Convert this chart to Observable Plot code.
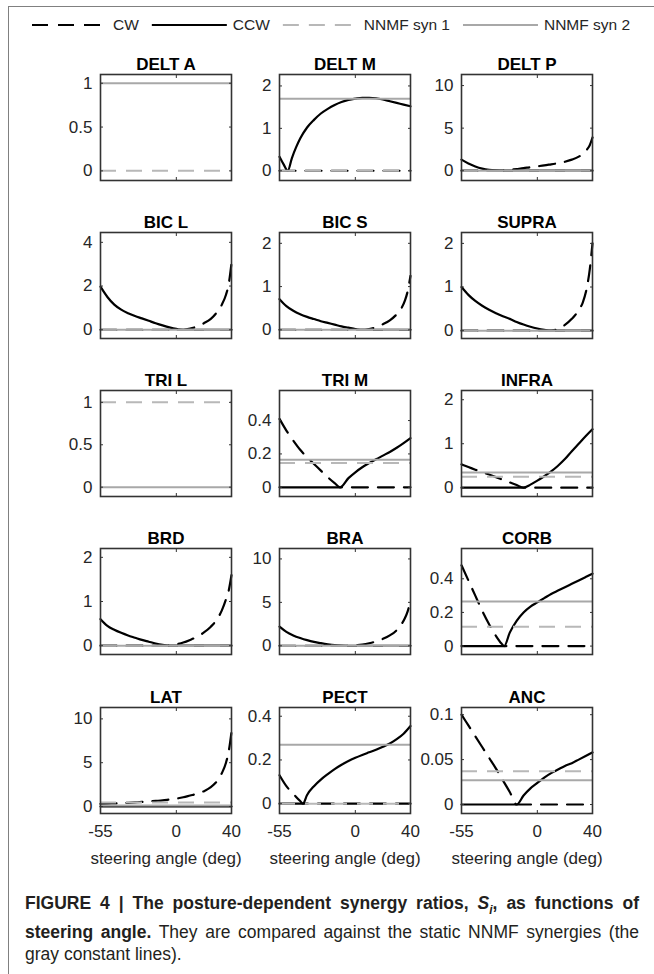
<!DOCTYPE html>
<html><head><meta charset="utf-8">
<script src="https://cdn.jsdelivr.net/npm/d3@7"></script>
<script src="https://cdn.jsdelivr.net/npm/@observablehq/plot@0.6"></script>
<style>
body{margin:0;background:#fff;font-family:"Liberation Sans",Arial,sans-serif;}
#fig{position:relative;width:654px;height:974px;overflow:hidden;background:#fff;}
.bt{position:absolute;left:8px;top:6px;width:646px;height:0;border-top:1.6px solid #808080;}
.bl{position:absolute;left:8px;top:6px;width:0;height:968px;border-left:1.6px solid #808080;}
.panel{position:absolute;}
#legend{position:absolute;left:0;top:0;}
#caption{position:absolute;left:25px;top:892px;width:614px;font-size:17.5px;line-height:22px;color:#231f20;}
#caption .j{text-align:justify;text-align-last:justify;white-space:normal;}
</style></head>
<body><div id="fig"><div class="bt"></div><div class="bl"></div><div id="legend"></div><div id="caption"></div></div>
<script>
// ---- data ----
const legendLabels = ["CW", "CCW", "NNMF syn 1", "NNMF syn 2"];
const muscles = ["DELT A","DELT M","DELT P","BIC L","BIC S","SUPRA","TRI L","TRI M","INFRA","BRD","BRA","CORB","LAT","PECT","ANC"];
const xTicks = [-55, 0, 40];
const xLabel = "steering angle (deg)";
const yTicks = [[0,0.5,1],[0,1,2],[0,5,10],[0,2,4],[0,1,2],[0,1,2],[0,0.5,1],[0,0.2,0.4],[0,1,2],[0,1,2],[0,5,10],[0,0.2,0.4],[0,5,10],[0,0.2,0.4],[0,0.05,0.1]];
const yLimits = [[-0.11,1.1],[-0.23,2.27],[-1.15,11.3],[-0.4,4.45],[-0.2,2.25],[-0.18,2.25],[-0.11,1.14],[-0.055,0.58],[-0.2,2.21],[-0.2,2.2],[-1.0,11.2],[-0.05,0.58],[-0.8,11.3],[-0.045,0.44],[-0.01,0.108]];
const syn1 = [0, 0, 0, 0, 0, 0, 1, 0.145, 0.25, 0, 0, 0.115, 0.45, 0, 0.037];
const syn2 = [1, 1.70, 0, 0, 0, 0, 0, 0.165, 0.345, 0, 0, 0.265, 0.1, 0.27, 0.027];
const cwCurves = [
  [],
  [[-55,0],[40,0]],
  [[-55,0],[-25,0],[-20,0.1],[-15,0.2],[-10,0.3],[-5,0.42],[0,0.52],[5,0.62],[10,0.75],[15,0.88],[20,1.05],[25,1.3],[30,1.65],[33,2.0],[36,2.5],[38,3.0],[40,3.9]],
  [[-55,0],[5,0],[10,0.05],[15,0.15],[20,0.3],[25,0.5],[30,0.85],[33,1.15],[36,1.6],[38,2.1],[40,3.05]],
  [[-55,0],[5,0],[10,0.02],[15,0.06],[20,0.13],[25,0.22],[30,0.36],[33,0.48],[36,0.68],[38,0.9],[40,1.25]],
  [[-55,0],[10,0],[15,0.04],[20,0.13],[25,0.27],[30,0.47],[33,0.65],[36,1.0],[38,1.4],[40,2.0]],
  [],
  [[-55,0.41],[-50,0.34],[-45,0.28],[-40,0.225],[-35,0.18],[-30,0.14],[-25,0.1],[-20,0.06],[-15,0.025],[-11,0],[40,0]],
  [[-55,0.53],[-50,0.47],[-45,0.41],[-40,0.35],[-35,0.3],[-30,0.24],[-25,0.18],[-20,0.12],[-15,0.06],[-10,0],[40,0]],
  [[-55,0],[-5,0],[0,0.03],[5,0.07],[10,0.13],[15,0.2],[20,0.3],[25,0.43],[30,0.62],[33,0.8],[36,1.05],[38,1.25],[40,1.6]],
  [[-55,0],[-5,0],[0,0.05],[5,0.15],[10,0.3],[15,0.5],[20,0.8],[25,1.2],[30,1.8],[33,2.4],[36,3.2],[38,4.0],[40,5.2]],
  [[-55,0.48],[-50,0.39],[-45,0.3],[-40,0.21],[-35,0.13],[-30,0.06],[-26,0.015],[-24,0],[40,0]],
  [[-55,0.3],[-50,0.32],[-45,0.35],[-40,0.38],[-35,0.42],[-30,0.47],[-25,0.52],[-20,0.58],[-15,0.64],[-10,0.7],[-5,0.8],[0,0.9],[5,1.05],[10,1.25],[15,1.45],[20,1.75],[25,2.2],[30,3.0],[33,3.8],[36,5.0],[38,6.3],[40,8.5]],
  [[-55,0.13],[-50,0.08],[-45,0.045],[-40,0.012],[-38,0],[40,0]],
  [[-55,0.1],[-50,0.088],[-45,0.076],[-40,0.064],[-35,0.052],[-30,0.04],[-25,0.027],[-20,0.014],[-15,0],[40,0]]
];
const ccwCurves = [
  [],
  [[-55,0.33],[-52,0.15],[-49,0],[-46,0.3],[-43,0.55],[-40,0.76],[-35,1.02],[-30,1.2],[-25,1.35],[-20,1.46],[-15,1.55],[-10,1.62],[-5,1.67],[0,1.70],[5,1.72],[10,1.72],[15,1.71],[20,1.68],[25,1.64],[30,1.6],[35,1.56],[40,1.52]],
  [[-55,1.3],[-50,0.85],[-45,0.5],[-40,0.25],[-35,0.1],[-30,0.03],[-25,0],[40,0]],
  [[-55,1.97],[-50,1.5],[-45,1.15],[-40,0.92],[-35,0.76],[-30,0.63],[-25,0.52],[-20,0.41],[-15,0.3],[-10,0.2],[-5,0.11],[0,0.04],[5,0],[40,0]],
  [[-55,0.71],[-50,0.55],[-45,0.44],[-40,0.36],[-35,0.3],[-30,0.25],[-25,0.2],[-20,0.16],[-15,0.12],[-10,0.08],[-5,0.05],[0,0.02],[5,0],[40,0]],
  [[-55,1.0],[-50,0.82],[-45,0.68],[-40,0.57],[-35,0.48],[-30,0.4],[-25,0.33],[-20,0.27],[-15,0.2],[-10,0.14],[-5,0.09],[0,0.05],[5,0.02],[10,0],[40,0]],
  [],
  [[-55,0],[-11,0],[-5,0.055],[0,0.09],[5,0.12],[10,0.145],[15,0.168],[20,0.19],[25,0.212],[30,0.237],[35,0.265],[40,0.295]],
  [[-55,0],[-10,0],[-5,0.07],[0,0.16],[5,0.26],[10,0.37],[15,0.5],[20,0.65],[25,0.83],[30,1.0],[35,1.17],[40,1.33]],
  [[-55,0.6],[-50,0.45],[-45,0.36],[-40,0.29],[-35,0.23],[-30,0.18],[-25,0.13],[-20,0.09],[-15,0.05],[-10,0.02],[-5,0],[40,0]],
  [[-55,2.2],[-50,1.6],[-45,1.2],[-40,0.9],[-35,0.65],[-30,0.45],[-25,0.3],[-20,0.17],[-15,0.07],[-10,0.02],[-5,0],[40,0]],
  [[-55,0],[-24,0],[-20,0.08],[-15,0.15],[-10,0.2],[-5,0.235],[0,0.26],[5,0.285],[10,0.31],[15,0.33],[20,0.35],[25,0.37],[30,0.39],[35,0.41],[40,0.43]],
  [[-55,0],[40,0]],
  [[-55,0],[-38,0],[-35,0.04],[-30,0.08],[-25,0.11],[-20,0.135],[-15,0.158],[-10,0.178],[-5,0.195],[0,0.21],[5,0.223],[10,0.235],[15,0.247],[20,0.26],[25,0.275],[30,0.295],[35,0.32],[40,0.355]],
  [[-55,0],[-15,0],[-10,0.01],[-5,0.018],[0,0.024],[5,0.03],[10,0.035],[15,0.039],[20,0.043],[25,0.046],[30,0.05],[35,0.054],[40,0.058]]
];

// ---- styles / layout ----
const FONT = '"Liberation Sans", Arial, sans-serif';
const TXT = "#262626";
const DASH = "16,10";
const GRAY1 = "#b8b8b8", GRAY2 = "#a8a8a8";
const colX = [100, 279, 461], rowY = [74, 232, 390, 548, 707];
const FW = 131, FH = 106;
const ML = 56, MR = 6, MT = 30, MB = 6, MBlast = 66;
const fmt = d => String(d);

const fig = document.getElementById("fig");
muscles.forEach((name, i) => {
  const r = Math.floor(i / 3), c = i % 3;
  const last = r === 4;
  const mb = last ? MBlast : MB;
  const marks = [
    Plot.line(cwCurves[i], {x: d => d[0], y: d => d[1], stroke: "#000", strokeWidth: 2.2, strokeDasharray: DASH, curve: "monotone-x"}),
    Plot.line(ccwCurves[i], {x: d => d[0], y: d => d[1], stroke: "#000", strokeWidth: 2.2, curve: "monotone-x"}),
    Plot.ruleY([syn1[i]], {stroke: GRAY1, strokeWidth: 2, strokeDasharray: DASH}),
    Plot.ruleY([syn2[i]], {stroke: GRAY2, strokeWidth: 2}),
    Plot.frame({stroke: "#333", strokeWidth: 1.6}),
    Plot.axisY(yTicks[i], {anchor: "left", tickSize: 0, tickPadding: 8, tickFormat: fmt, fill: TXT, stroke: "none", label: null}),
    Plot.axisY(yTicks[i], {anchor: "left", tickSize: -3, fill: "none", stroke: "#333", label: null}),
    Plot.axisY(yTicks[i], {anchor: "right", tickSize: -3, fill: "none", stroke: "#333", label: null}),
    Plot.axisX(xTicks, {anchor: "top", tickSize: -3, fill: "none", stroke: "#333", label: null}),
    Plot.axisX(xTicks, {anchor: "bottom", tickSize: -3, fill: "none", stroke: "#333", label: null}),
    Plot.text([name], {frameAnchor: "top", lineAnchor: "bottom", dy: -5, fontWeight: "bold", fontSize: 17, fill: "#000"})
  ];
  if (last) {
    marks.push(Plot.axisX(xTicks, {anchor: "bottom", tickSize: 0, tickPadding: 11, stroke: "none", fill: TXT,
      tickFormat: fmt, label: xLabel, labelAnchor: "center", labelArrow: "none", labelOffset: 50}));
  }
  const plot = Plot.plot({
    width: ML + FW + MR, height: MT + FH + mb,
    marginLeft: ML, marginRight: MR, marginTop: MT, marginBottom: mb,
    x: {domain: [-55, 40]},
    y: {domain: yLimits[i]},
    style: {fontFamily: FONT, fontSize: "17px", color: TXT, background: "transparent", overflow: "visible"},
    marks
  });
  const div = document.createElement("div");
  div.className = "panel";
  div.style.left = (colX[c] - ML) + "px";
  div.style.top = (rowY[r] - MT) + "px";
  div.style.width = (ML + FW + MR) + "px";
  div.appendChild(plot);
  fig.appendChild(div);
});

// legend
const legendStyles = [
  {stroke: "#000", dash: DASH, w: 2.2},
  {stroke: "#000", dash: null, w: 2.2},
  {stroke: GRAY1, dash: DASH, w: 2},
  {stroke: GRAY2, dash: null, w: 2}
];
const lsvg = d3.select("#legend").append("svg").attr("width", 654).attr("height", 45)
  .style("font-family", FONT).style("font-size", "15.5px");
let lx = 32;
const ly = 25;
legendLabels.forEach((lab, k) => {
  const s = legendStyles[k];
  lsvg.append("line").attr("x1", lx).attr("x2", lx + 75).attr("y1", ly).attr("y2", ly)
    .attr("stroke", s.stroke).attr("stroke-width", s.w).attr("stroke-dasharray", s.dash);
  lx += 81;
  const t = lsvg.append("text").attr("x", lx).attr("y", ly).attr("dy", "0.35em").attr("fill", TXT).text(lab);
  lx += t.node().getComputedTextLength() + 13;
});

// caption
document.getElementById("caption").innerHTML =
  '<div class="j"><b>FIGURE 4 | The posture-dependent synergy ratios, <i>S<sub style="font-size:12px">i</sub></i>, as functions of</b></div>' +
  '<div class="j"><b>steering angle.</b> They are compared against the static NNMF synergies (the</div>' +
  '<div>gray constant lines).</div>';
</script>
</body></html>
